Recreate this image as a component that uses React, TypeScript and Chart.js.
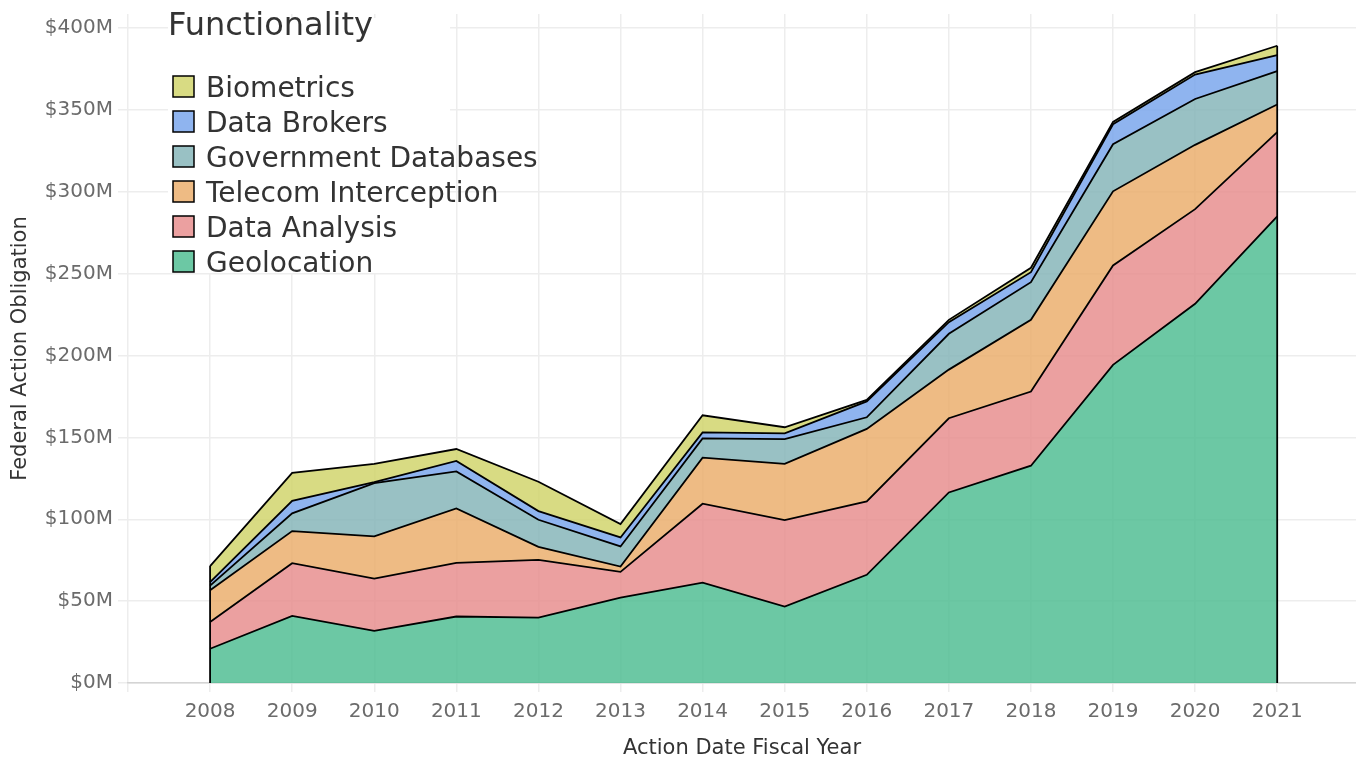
import React, { useEffect, useRef } from 'react';
import { Chart, registerables } from 'chart.js';

Chart.register(...registerables);

// ---- Data (values in $ millions) ----
const years = [2008, 2009, 2010, 2011, 2012, 2013, 2014, 2015, 2016, 2017, 2018, 2019, 2020, 2021];
const geolocation = [20.9, 41.0, 31.8, 40.6, 39.9, 52.2, 61.3, 46.7, 66.1, 116.4, 132.7, 194.3, 231.6, 285.0];
const dataAnalysis = [16.4, 32.2, 32.0, 32.8, 35.3, 15.7, 48.2, 52.8, 44.8, 45.3, 45.3, 60.7, 57.8, 51.4];
const telecomInterception = [19.4, 19.6, 25.7, 33.2, 8.0, 3.2, 28.1, 34.3, 44.3, 29.7, 43.8, 45.3, 39.3, 16.9];
const governmentDatabases = [2.8, 10.8, 32.6, 22.6, 16.5, 12.3, 11.8, 15.2, 7.1, 21.9, 23.0, 28.8, 28.0, 20.4];
const dataBrokers = [2.1, 7.7, 0.6, 6.4, 5.3, 5.5, 3.7, 3.5, 9.7, 7.1, 6.1, 12.2, 14.9, 9.8];
const biometrics = [9.8, 17.0, 11.1, 7.3, 17.9, 8.2, 10.4, 3.7, 0.9, 1.4, 2.7, 1.4, 1.5, 5.7];

const xTickValues = [2007, 2008, 2009, 2010, 2011, 2012, 2013, 2014, 2015, 2016, 2017, 2018, 2019, 2020, 2021];
const yTickValues = [0, 50, 100, 150, 200, 250, 300, 350, 400];

const seriesNames = ['Geolocation', 'Data Analysis', 'Telecom Interception', 'Government Databases', 'Data Brokers', 'Biometrics'];
const seriesValues = [geolocation, dataAnalysis, telecomInterception, governmentDatabases, dataBrokers, biometrics];
const seriesFills = [
  'rgba(71,186,141,0.8)',
  'rgba(230,136,136,0.8)',
  'rgba(234,170,101,0.8)',
  'rgba(128,178,181,0.8)',
  'rgba(115,161,235,0.8)',
  'rgba(206,210,100,0.8)',
];
const legendSwatches = ['#6cc8a4', '#eba0a0', '#eebb84', '#99c1c4', '#8fb4ef', '#d8db83'];

const FONT = "'DejaVu Sans', 'Liberation Sans', sans-serif";

const legendPlugin = {
  id: 'ggLegend',
  afterDatasetsDraw(chart: any) {
    const ctx = chart.ctx;
    // vertical edges of the stacked area at first and last year
    const topMeta = chart.getDatasetMeta(seriesNames.length - 1);
    const yScale = chart.scales.y;
    const baseY = yScale.getPixelForValue(0);
    const n = years.length;
    ctx.save();
    ctx.strokeStyle = '#000';
    ctx.lineWidth = 1.8;
    [0, n - 1].forEach((i) => {
      const p = topMeta.data[i];
      ctx.beginPath();
      ctx.moveTo(p.x, baseY);
      ctx.lineTo(p.x, p.y);
      ctx.stroke();
    });
    ctx.restore();
  },
  afterDraw(chart: any) {
    const ctx = chart.ctx;
    ctx.save();
    ctx.fillStyle = '#ffffff';
    ctx.fillRect(168, 18, 282, 255);
    ctx.fillStyle = '#333333';
    ctx.font = `32px ${FONT}`;
    ctx.textBaseline = 'alphabetic';
    ctx.textAlign = 'left';
    ctx.fillText('Functionality', 168, 35);
    ctx.font = `28px ${FONT}`;
    for (let k = 0; k < seriesNames.length; k++) {
      const idx = seriesNames.length - 1 - k;
      const top = 76 + 35 * k;
      ctx.fillStyle = legendSwatches[idx];
      ctx.fillRect(173, top, 21, 21);
      ctx.strokeStyle = '#000';
      ctx.lineWidth = 1.5;
      ctx.strokeRect(173, top, 21, 21);
      ctx.fillStyle = '#333333';
      ctx.fillText(seriesNames[idx], 206, top + 21);
    }
    ctx.restore();
  },
};

export default function App() {
  const ref = useRef<HTMLCanvasElement>(null);

  useEffect(() => {
    if (!ref.current) return;
    const datasets = seriesNames.map((name, si) => ({
      label: name,
      data: years.map((yr, i) => ({ x: yr, y: seriesValues[si][i] })),
      backgroundColor: seriesFills[si],
      borderColor: '#000000',
      borderWidth: 1.8,
      pointRadius: 0,
      tension: 0,
      fill: si === 0 ? 'origin' : '-1',
    }));

    const chart = new Chart(ref.current, {
      type: 'line',
      data: { datasets },
      plugins: [legendPlugin],
      options: {
        responsive: false,
        animation: false,
        layout: { padding: { top: 14, right: 0, bottom: 0, left: 0 } },
        plugins: {
          legend: { display: false },
          tooltip: { enabled: false },
          filler: { drawTime: 'beforeDatasetsDraw' },
        },
        scales: {
          x: {
            type: 'linear',
            min: 2007,
            max: 2021.96,
            afterBuildTicks: (s: any) => {
              s.ticks = xTickValues.map((v) => ({ value: v }));
            },
            afterFit: (s: any) => {
              s.height = 77;
              s.paddingLeft = 0;
              s.paddingRight = 0;
            },
            ticks: {
              callback: (v: any) => (v === 2007 ? '' : String(v)),
              font: { family: FONT, size: 20 },
              color: '#6b6b6b',
              padding: 8,
              maxRotation: 0,
              autoSkip: false,
            },
            grid: { color: '#ededed', lineWidth: 1.5, tickLength: 9, tickColor: '#ededed' },
            border: { display: true, color: '#d4d4d4', width: 1.5 },
            title: {
              display: true,
              text: 'Action Date Fiscal Year',
              font: { family: FONT, size: 21 },
              color: '#333333',
              padding: { top: 0, bottom: -1 },
            },
          },
          y: {
            stacked: true,
            min: 0,
            max: 408.6,
            afterBuildTicks: (s: any) => {
              s.ticks = yTickValues.map((v) => ({ value: v }));
            },
            afterFit: (s: any) => {
              s.width = 128;
              s.paddingTop = 0;
              s.paddingBottom = 0;
            },
            ticks: {
              callback: (v: any) => '$' + v + 'M',
              font: { family: FONT, size: 20 },
              color: '#6b6b6b',
              padding: 5,
            },
            grid: { color: '#ededed', lineWidth: 1.5, tickLength: 10, tickColor: '#ededed' },
            border: { display: false },
            title: {
              display: true,
              text: 'Federal Action Obligation',
              font: { family: FONT, size: 21 },
              color: '#333333',
              padding: { top: 8, bottom: 0 },
            },
          },
        },
      } as any,
    });
    return () => chart.destroy();
  }, []);

  return (
    <div style={{ position: 'fixed', left: 0, top: 0, width: 1356, height: 760, background: '#fff' }}>
      <canvas ref={ref} width={1356} height={760} style={{ width: 1356, height: 760, display: 'block' }} />
    </div>
  );
}
